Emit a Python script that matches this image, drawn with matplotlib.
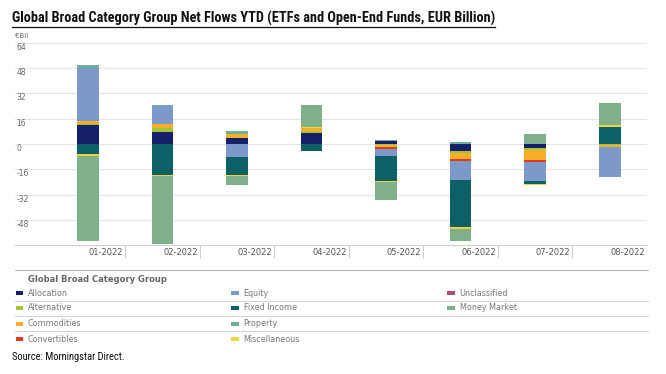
import numpy as np
import matplotlib
matplotlib.use("Agg")
import matplotlib.pyplot as plt
from matplotlib.patches import Rectangle
from matplotlib.lines import Line2D

W, H = 666, 374

months = ["01-2022", "02-2022", "03-2022", "04-2022", "05-2022", "06-2022", "07-2022", "08-2022"]

# net flows, EUR billion
allocation = [12.0, 7.4, 3.4, 6.5, 1.7, -4.6, -2.3, 0.0]
alternative = [0.5, 2.1, 0.0, 1.5, -0.5, -1.1, -1.3, -0.6]
commodities = [2.0, 2.7, 2.9, 1.8, -1.2, -3.6, -6.7, -1.1]
convertibles = [0.0, 0.0, 0.0, 0.0, -1.3, -1.7, -0.8, 0.0]
equity = [33.3, 11.2, -8.0, 0.0, -4.4, -12.0, -12.0, -19.4]
fixed_income = [-6.3, -19.4, -11.4, -4.4, -15.8, -29.7, -2.1, 10.5]
property_ = [1.5, 1.0, 1.3, 0.0, 0.8, 1.3, 0.0, 0.0]
miscellaneous = [-1.0, -1.0, -0.8, 0.9, -0.8, -1.1, -0.8, 1.7]
unclassified = [0.3, 0.3, 0.3, 0.3, 0.0, 0.0, 0.2, 0.0]
money_market = [-54.1, -42.5, -5.5, 13.8, -11.4, -7.4, 5.9, 13.7]

series = {
    "Allocation": (allocation, "#15206b"),
    "Alternative": (alternative, "#a5c23a"),
    "Commodities": (commodities, "#f8ae2a"),
    "Convertibles": (convertibles, "#e23a1e"),
    "Equity": (equity, "#7c99c9"),
    "Fixed Income": (fixed_income, "#0d6065"),
    "Property": (property_, "#6fae9b"),
    "Miscellaneous": (miscellaneous, "#f2d43a"),
    "Unclassified": (unclassified, "#b34a78"),
    "Money Market": (money_market, "#7fb089"),
}
stack_order = ["Unclassified", "Allocation", "Alternative", "Commodities", "Convertibles",
               "Equity", "Fixed Income", "Property", "Miscellaneous", "Money Market"]

# legend grid as in the original (row by row)
legend_rows = [
    ["Allocation", "Equity", "Unclassified"],
    ["Alternative", "Fixed Income", "Money Market"],
    ["Commodities", "Property"],
    ["Convertibles", "Miscellaneous"],
]

narrow = ["Roboto Condensed", "Liberation Sans Narrow", "Roboto", "DejaVu Sans"]


def fx(x):
    return x / W


def fy(y):
    return 1 - y / H


fig = plt.figure(figsize=(W / 100, H / 100), dpi=100)
ax = fig.add_axes([fx(15), fy(245.3), (647 - 15) / W, (245.3 - 42.7) / H])

x = np.arange(len(months))
pos = np.zeros(len(months))
neg = np.zeros(len(months))
for name in stack_order:
    vals, col = series[name]
    v = np.array(vals)
    base = np.where(v >= 0, pos, neg)
    ax.bar(x, v, 0.29, bottom=base, color=col, linewidth=0, zorder=3)
    pos = pos + np.clip(v, 0, None)
    neg = neg + np.clip(v, None, 0)

ax.set_xlim(-0.98, 7.5)
ax.set_ylim(-64, 64)
ax.set_yticks(range(-48, 65, 16))
ax.set_yticklabels([str(t) for t in range(-48, 65, 16)])
ax.grid(axis="y", color="#e4e4e4", linewidth=0.8, zorder=0)
for s in ["top", "right", "left"]:
    ax.spines[s].set_visible(False)
ax.spines["bottom"].set_color("#cfcfcf")
ax.spines["bottom"].set_linewidth(0.8)

ax.tick_params(axis="y", length=0, pad=-1, labelsize=5.5, labelcolor="#666666")
for lab in ax.get_yticklabels():
    lab.set_horizontalalignment("left")
    lab.set_verticalalignment("top")

ax.set_xticks(x + 0.473)
ax.set_xticklabels(months, ha="right")
ax.tick_params(axis="x", which="major", length=0, pad=1.8, labelsize=6, labelcolor="#555555")
ax.set_xticks(x[:-1] + 0.5, minor=True)
ax.tick_params(axis="x", which="minor", length=9.4, width=0.8, color="#d0d0d0")

fig.text(fx(15), fy(36), "€Bil", fontsize=5, color="#666666", va="center", ha="left")

# title with underline
title = fig.text(fx(12), fy(23), "Global Broad Category Group Net Flows YTD (ETFs and Open-End Funds, EUR Billion)",
                 fontsize=11, fontweight="bold", family=narrow,
                 va="baseline", ha="left", color="#111111")
r = fig.canvas.get_renderer()
for _ in range(3):
    bb = title.get_window_extent(r)
    title.set_fontsize(title.get_fontsize() * (498 - 12) / bb.width)
bb = title.get_window_extent(r)
fig.add_artist(Line2D([bb.x0 / W, bb.x1 / W], [fy(26.5), fy(26.5)], color="#111111", linewidth=0.9))

# legend block
for yy, c in [(270.3, "#bdbdbd"), (301, "#d4d4d4"), (316, "#d4d4d4"), (331, "#d4d4d4")]:
    fig.add_artist(Line2D([fx(15), fx(648)], [fy(yy), fy(yy)], color=c, linewidth=0.8))
fig.text(fx(28), fy(279), "Global Broad Category Group", fontsize=6, fontweight="bold",
         color="#666666", va="center", ha="left")
row_y = [293, 308, 324, 339]
col_marker = [15.7, 231, 447.3]
col_text = [27.7, 243.7, 459.7]
for ri, row in enumerate(legend_rows):
    for ci, name in enumerate(row):
        col = series[name][1]
        fig.add_artist(Rectangle((fx(col_marker[ci]), fy(row_y[ri] + 1.6)), 7.6 / W, 3.2 / H,
                                 transform=fig.transFigure, color=col, linewidth=0))
        fig.text(fx(col_text[ci]), fy(row_y[ri]), name, fontsize=5.8, color="#777777",
                 va="center", ha="left")

src = fig.text(fx(12), fy(357), "Source: Morningstar Direct.", fontsize=8,
               family=narrow, color="#111111", va="center", ha="left")
for _ in range(2):
    bb = src.get_window_extent(r)
    src.set_fontsize(src.get_fontsize() * (125 - 12) / bb.width)

fig.savefig("out.png", dpi=100)
